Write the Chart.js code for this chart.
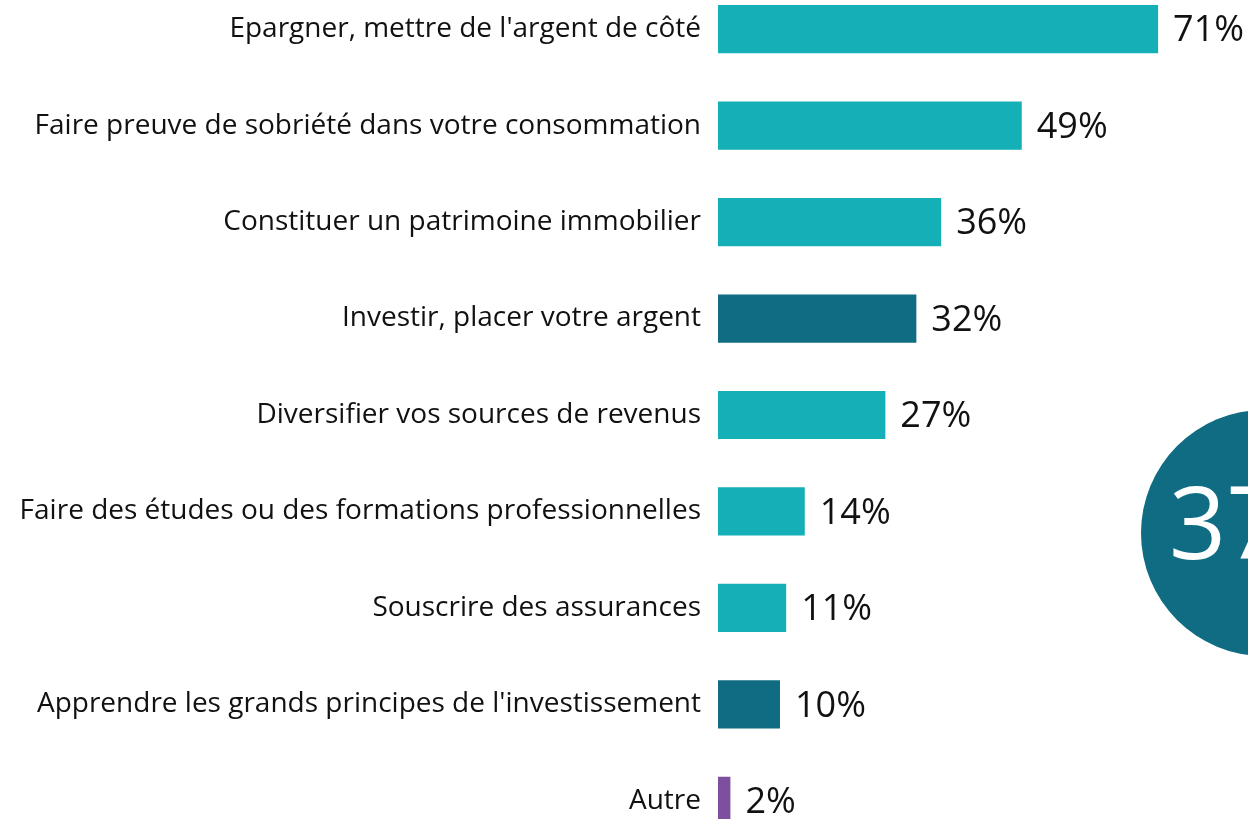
<!DOCTYPE html>
<html><head><meta charset="utf-8">
<script src="https://cdn.jsdelivr.net/npm/chart.js@4"></script>
<style>
html,body{margin:0;padding:0;width:1248px;height:819px;overflow:hidden;background:#fff;}
#wrap{position:absolute;left:0;top:-45px;width:1248px;height:920px;}
#circle{position:absolute;left:1141px;top:410px;width:246px;height:246px;border-radius:50%;background:#0F6C82;overflow:hidden;}
#circle span{position:absolute;left:28px;top:60px;font-family:"Open Sans",sans-serif;font-size:100px;line-height:1;color:#fff;}
</style></head>
<body>
<div id="wrap"><canvas id="c"></canvas></div>
<div id="circle"><span>37%</span></div>
<script>
const categories = [
 "Epargner, mettre de l'argent de côté",
 "Faire preuve de sobriété dans votre consommation",
 "Constituer un patrimoine immobilier",
 "Investir, placer votre argent",
 "Diversifier vos sources de revenus",
 "Faire des études ou des formations professionnelles",
 "Souscrire des assurances",
 "Apprendre les grands principes de l'investissement",
 "Autre"
];
const values = [71, 49, 36, 32, 27, 14, 11, 10, 2];
const barColors = ["#14AFB7","#14AFB7","#14AFB7","#0F6C82","#14AFB7","#14AFB7","#14AFB7","#0F6C82","#7F4F9F"];

const valueLabels = {
  id:'valueLabels',
  afterDatasetsDraw(chart){
    const ctx = chart.ctx;
    const meta = chart.getDatasetMeta(0);
    ctx.save();
    ctx.font = '36px "Open Sans"';
    ctx.fillStyle = '#111';
    ctx.textAlign = 'left';
    ctx.textBaseline = 'middle';
    meta.data.forEach((bar,i)=>{
      ctx.fillText(values[i]+'%', bar.x + 15, bar.y + 2);
    });
    ctx.restore();
  }
};

new Chart(document.getElementById('c'), {
  type:'bar',
  data:{labels:categories, datasets:[{data:values, backgroundColor:barColors, barPercentage:0.5, categoryPercentage:1.0}]},
  options:{
    indexAxis:'y',
    responsive:true, maintainAspectRatio:false, animation:false,
    layout:{padding:0},
    plugins:{legend:{display:false}, tooltip:{enabled:false}},
    scales:{
      x:{display:false, min:0, max:85.5},
      y:{
        grid:{display:false, drawBorder:false}, border:{display:false},
        ticks:{padding:9, color:'#111', font:{family:'"Open Sans"', size:28}},
        afterFit(s){ s.width = 718; }
      }
    }
  },
  plugins:[valueLabels]
});
</script>
</body></html>
